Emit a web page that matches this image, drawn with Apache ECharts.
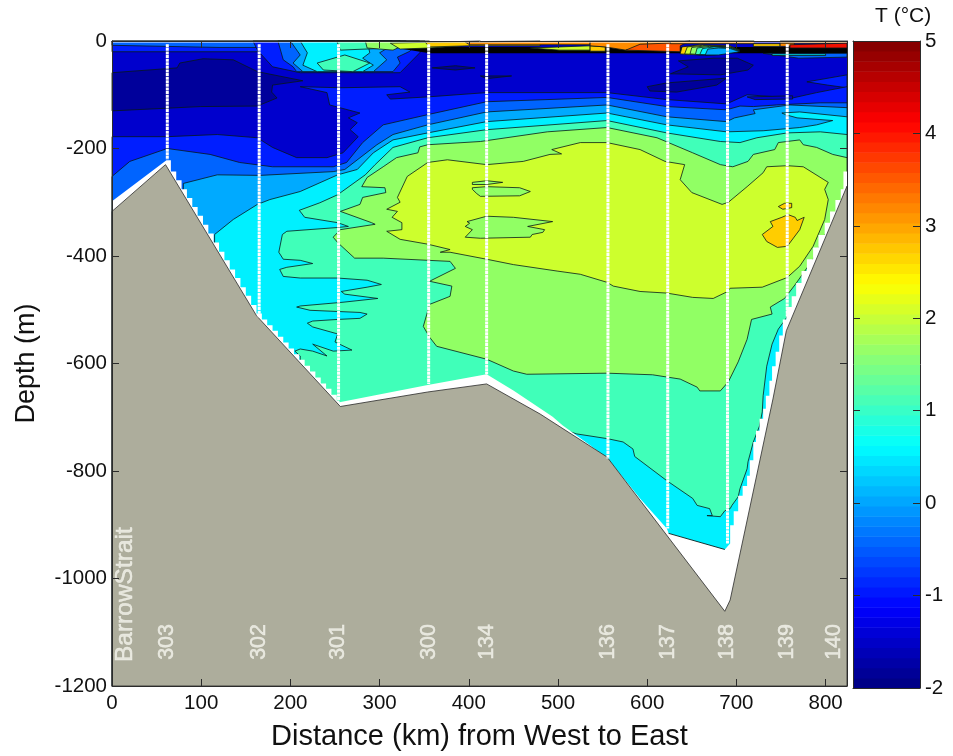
<!DOCTYPE html>
<html><head><meta charset="utf-8">
<style>html,body{margin:0;padding:0;background:#fff}#c{width:953px;height:756px}</style>
<script src="https://cdn.jsdelivr.net/npm/echarts@6/dist/echarts.min.js"></script>
</head><body><div id="c"></div>
<script>
// ---- Data: [distance km, depth m] ----
const xTicks=[0,100,200,300,400,500,600,700,800];
const depthTicks=[0,-200,-400,-600,-800,-1000,-1200];
const tempTicks=[-2,-1,0,1,2,3,4,5];
const stationNames=['303','302','301','300','134','136','137','138','139','140'];
const stationLabelKm=[62,165,254,355,420,556,623,690,757,809];
const stationKm=[62,165,254,355,420,556,623,690,757];
const stationBottom=[-221,-514,-669,-638,-620,-777,-907,-935,-512];
const bathymetry=[[0,-317],[60,-230],[162,-511],[256,-680],[354,-653],[420,-638],[480,-694],[555,-774],[687,-1061],[693,-1040],[741,-666],[756,-539],[824,-270]];
const dataBottom=[[0,-298],[61,-222],[66,-222],[66,-243],[72,-243],[72,-259],[78,-259],[78,-276],[84,-276],[84,-292],[90,-292],[90,-309],[96,-309],[96,-325],[102,-325],[102,-342],[108,-342],[108,-358],[114,-358],[114,-375],[120,-375],[120,-392],[126,-392],[126,-408],[132,-408],[132,-425],[138,-425],[138,-441],[144,-441],[144,-458],[150,-458],[150,-474],[156,-474],[156,-491],[162,-491],[162,-507],[168,-507],[168,-518],[174,-518],[174,-529],[180,-529],[180,-539],[186,-539],[186,-550],[192,-550],[192,-561],[198,-561],[198,-572],[204,-572],[204,-583],[210,-583],[210,-593],[216,-593],[216,-604],[222,-604],[222,-615],[228,-615],[228,-626],[234,-626],[234,-637],[240,-637],[240,-647],[246,-647],[246,-658],[252,-658],[252,-669],[255,-669],[255,-672],[354,-640],[420,-620],[450,-650],[494,-699],[505,-715],[536,-752],[556,-777],[592,-851],[622,-907],[624,-916],[687,-946],[693,-935],[693,-901],[697,-901],[697,-875],[702,-875],[702,-846],[707,-846],[707,-828],[712,-828],[712,-809],[715,-809],[715,-780],[719,-780],[719,-746],[722,-746],[722,-725],[726,-725],[726,-703],[730,-703],[730,-684],[733,-684],[733,-660],[737,-660],[737,-632],[740,-632],[740,-605],[744,-605],[744,-578],[748,-578],[748,-548],[752,-548],[752,-518],[756,-518],[756,-495],[762,-495],[762,-475],[767,-475],[767,-450],[773,-450],[773,-428],[779,-428],[779,-406],[786,-406],[786,-384],[792,-384],[792,-361],[799,-361],[799,-338],[805,-338],[805,-317],[811,-317],[811,-296],[817,-296],[817,-276],[820,-276],[820,-243],[824,-243]];
// Isotherms: everything below / inside is warmer than the level
const isoM1=[[0,-178],[62,-178],[118,-174],[163,-180],[180,-198],[207,-217],[241,-217],[259,-208],[276,-178],[267,-165],[275,-152],[265,-143],[278,-134],[244,-119],[241,-96],[211,-85],[256,-87],[323,-85],[334,-95],[308,-100],[312,-108],[354,-104],[420,-96],[555,-96],[622,-109],[689,-117],[712,-100],[763,-106],[790,-96],[824,-85]];
const isoM05=[[0,-252],[20,-224],[62,-200],[110,-211],[143,-226],[180,-234],[248,-234],[263,-226],[281,-189],[304,-156],[354,-137],[420,-113],[555,-105],[622,-122],[689,-128],[704,-121],[719,-122],[745,-119],[794,-115],[824,-115]];
const iso0=[[80,-265],[118,-249],[166,-250],[248,-243],[261,-239],[297,-193],[315,-174],[354,-156],[420,-132],[555,-119],[622,-141],[689,-150],[698,-143],[721,-135],[719,-128],[760,-119],[824,-124]];
const iso05=[[115,-360],[136,-332],[163,-304],[177,-295],[211,-280],[253,-249],[275,-239],[293,-208],[315,-184],[354,-171],[420,-150],[555,-134],[622,-156],[689,-169],[730,-167],[771,-161],[790,-156],[808,-148],[768,-143],[755,-137],[751,-134],[771,-132],[824,-141]];
const iso1=[[824,-174],[794,-169],[757,-171],[723,-180],[704,-189],[682,-187],[622,-171],[555,-148],[420,-165],[354,-180],[315,-198],[295,-230],[284,-249],[253,-286],[233,-301],[210,-315],[216,-328],[253,-338],[265,-345],[253,-347],[196,-354],[191,-360],[187,-393],[192,-406],[211,-408],[225,-414],[196,-421],[188,-425],[192,-438],[211,-441],[253,-441],[286,-445],[302,-453],[286,-458],[257,-466],[261,-471],[298,-479],[259,-486],[211,-493],[207,-495],[222,-501],[278,-505],[286,-508],[278,-516],[253,-518],[225,-521],[219,-525],[225,-532],[253,-545],[250,-560],[269,-575],[248,-577],[225,-564],[241,-586],[225,-577],[211,-573],[205,-577],[211,-586],[211,-595],[240,-660],[260,-690],[420,-660],[500,-720],[521,-731],[556,-740],[573,-746],[584,-759],[586,-773],[622,-818],[651,-851],[656,-864],[670,-870],[673,-883],[667,-883],[682,-885],[687,-874],[693,-870],[695,-864],[702,-848],[704,-833],[712,-796],[713,-783],[719,-746],[726,-716],[729,-690],[730,-660],[734,-605],[740,-564],[747,-536],[755,-518],[771,-473],[805,-341],[824,-267]];
const iso15=[[824,-217],[808,-211],[790,-198],[775,-193],[771,-184],[747,-189],[743,-202],[719,-211],[713,-224],[696,-234],[682,-230],[651,-208],[611,-180],[555,-161],[488,-169],[413,-187],[354,-193],[345,-197],[343,-208],[319,-217],[304,-234],[286,-254],[280,-271],[306,-273],[307,-282],[281,-291],[278,-304],[256,-317],[291,-338],[295,-341],[256,-351],[248,-365],[253,-375],[272,-404],[304,-404],[379,-410],[385,-423],[356,-447],[381,-456],[379,-475],[356,-490],[353,-508],[349,-531],[356,-551],[364,-568],[420,-592],[450,-614],[465,-620],[555,-618],[606,-621],[637,-629],[656,-644],[659,-651],[682,-651],[691,-634],[702,-597],[712,-555],[717,-518],[740,-508],[738,-495],[754,-479],[766,-453],[786,-406],[824,-276]];
const iso2=[[555,-189],[592,-202],[620,-224],[642,-230],[637,-258],[650,-282],[684,-304],[691,-300],[712,-271],[730,-245],[734,-234],[757,-232],[775,-234],[803,-263],[799,-276],[803,-295],[799,-332],[786,-382],[771,-419],[757,-440],[729,-458],[693,-460],[689,-467],[674,-479],[651,-477],[622,-469],[592,-466],[562,-456],[555,-449],[525,-434],[499,-428],[450,-416],[420,-406],[379,-393],[368,-393],[379,-388],[354,-378],[323,-369],[308,-354],[325,-351],[325,-338],[314,-328],[320,-317],[308,-313],[323,-300],[320,-291],[331,-252],[354,-226],[376,-221],[420,-230],[461,-224],[491,-211],[504,-210],[493,-202],[525,-189]];
const pocket15a=[[404,-263],[420,-260],[438,-263],[420,-267],[404,-267]];
const pocket15b=[[404,-273],[420,-271],[457,-273],[469,-280],[457,-288],[413,-289],[409,-284],[404,-276]];
const pocket15c=[[398,-336],[420,-326],[450,-328],[494,-336],[466,-345],[485,-351],[483,-356],[471,-360],[469,-365],[413,-367],[396,-365],[404,-351],[396,-345],[401,-339]];
const core25a=[[751,-328],[758,-323],[766,-328],[768,-334],[776,-328],[771,-351],[757,-382],[746,-384],[734,-373],[729,-360],[741,-345],[738,-336]];
const core25b=[[747,-308],[754,-302],[762,-302],[762,-310],[752,-313]];
const coldMain=[[0,-59],[73,-50],[76,-41],[102,-33],[136,-35],[163,-57],[214,-74],[180,-82],[179,-95],[185,-106],[163,-121],[99,-122],[0,-130]];
const coldB=[[359,-50],[385,-46],[407,-50],[385,-54]];
const coldC=[[413,-65],[448,-65],[420,-70]];
const coldD=[[635,-37],[674,-32],[701,-32],[719,-45],[713,-54],[682,-63],[626,-61],[646,-48]];
const coldE=[[600,-85],[622,-78],[689,-69],[678,-82],[633,-95],[603,-93]];
const coolF=[[712,-104],[763,-102],[763,-108],[721,-109]];
const blueG=[[779,-76],[824,-63],[824,-87],[802,-82]];
// Near-surface layer
const surfM1=[[0,0],[330,0],[330,-15],[180,-20],[0,-20]];
const surfM05=[[0,0],[250,0],[250,-12],[120,-12],[0,-8]];
const capM1=[[158,0],[163,-17],[180,-48],[211,-59],[323,-59],[345,-22],[351,0]];
const capM05=[[186,0],[192,-35],[203,-48],[207,-57],[315,-57],[323,-41],[320,-30],[334,-19],[345,0]];
const cap0=[[200,0],[211,-26],[203,-41],[214,-57],[293,-57],[308,-35],[300,-22],[315,-7],[323,0]];
const cap05=[[211,0],[219,-22],[214,-45],[230,-57],[281,-57],[293,-45],[281,-32],[289,-22],[286,0]];
const capIsland1=[[230,-41],[261,-26],[289,-41],[270,-57],[237,-54]];
const capTop1=[[252,0],[256,-17],[312,-13],[314,0]];
const capTop15=[[284,0],[286,-13],[315,-17],[323,-11],[356,-9],[356,0]];
const surfBlack=[[326,-15],[356,-11],[469,-11],[824,-11],[824,-23],[356,-23]];
const surf2a=[[312,-4],[323,-15],[356,-13],[413,-7],[413,0]];
const surf25a=[[351,-2],[356,-11],[401,-9],[480,-9],[480,0]];
const surf3a=[[396,-2],[401,-7],[536,-7],[536,0]];
const lens2=[[469,-13],[502,-11],[536,-9],[536,-17],[502,-17]];
const lens25=[[536,-9],[553,-11],[553,-19],[536,-19]];
const surf3b=[[536,0],[626,0],[626,-17],[576,-17],[553,-11],[536,-9]];
const surf35=[[576,-17],[592,-6],[622,-4],[648,0],[637,-9],[637,-20]];
const ring25=[[637,-24],[639,-11],[659,-7],[693,-9],[704,-17],[659,-26]];
const ring2=[[642,-24],[645,-11],[662,-8],[693,-11],[704,-17],[662,-26]];
const ring15=[[648,-24],[650,-12],[666,-9],[693,-11],[704,-18],[666,-26]];
const ring1=[[654,-25],[656,-13],[670,-10],[693,-12],[704,-18],[670,-26]];
const ring05=[[659,-25],[662,-14],[675,-11],[693,-13],[704,-19],[675,-26]];
const ring0=[[665,-26],[668,-15],[680,-13],[693,-14],[704,-20],[680,-26]];
const surf3c=[[626,0],[720,0],[720,-5],[626,-5]];
const surf25b=[[719,-5],[749,-5],[749,-10],[719,-10]];
const surf3d=[[749,0],[824,0],[824,-4],[749,-4]];
const surf3e=[[749,-4],[765,-4],[765,-10],[749,-10]];
const surf4=[[760,-7],[824,-4],[824,-13],[760,-13]];
const subM05=[[730,-23],[824,-23],[824,-30],[770,-32]];
const sub05=[[740,-24],[800,-24],[800,-27],[740,-27]];
const bottomEdge=[[624,-916],[687,-946]];
const topStrip=[[0,0],[824,0],[824,-3],[0,-3]];

// ---- Styling ----
const FONT='"Liberation Sans",Arial,sans-serif';
const C={'-2':'#00009b','-1.5':'#0000cd','-1':'#001eff','-0.5':'#0064ff','0':'#00aaff','0.5':'#00f0ff','1':'#40ffb9','1.5':'#91ff64','2':'#cdff2d','2.5':'#ffcd00','3':'#ff8c00','3.5':'#ff5500','4':'#f01000'};
const LINE='rgba(8,24,24,0.88)';
const XMAX=824,YMIN=-1200;
const under=p=>p.concat([[XMAX,YMIN],[p[0][0],YMIN]]);
const band=(lvl,p)=>({fill:C[lvl],stroke:LINE,lw:0.9,path:p});
const plain=(fill,p)=>({fill:fill,path:p});
const regions=[
 plain(C['-1.5'],[[0,0],[XMAX,0],[XMAX,YMIN],[0,YMIN]]),
 band('-2',coldMain),band('-2',coldB),band('-2',coldC),band('-2',coldD),band('-2',coldE),
 band('-1',blueG),
 band('-1',under(isoM1)),band('-1.5',coolF),
 band('-0.5',under(isoM05)),band('0',under(iso0)),band('0.5',under(iso05)),
 band('1',iso1),band('1.5',iso15),band('2',iso2),
 band('1.5',pocket15a),band('1.5',pocket15b),band('1.5',pocket15c),
 band('2.5',core25a),band('2.5',core25b),
 band('-1',surfM1),band('-0.5',surfM05),
 band('-1',capM1),band('-0.5',capM05),band('0',cap0),band('0.5',cap05),band('1',capIsland1),band('1',capTop1),band('1.5',capTop15),
 plain('#000',surfBlack),
 band('2',surf2a),band('2.5',surf25a),band('3',surf3a),band('2',lens2),band('2.5',lens25),band('3',surf3b),band('3.5',surf35),
 band('-0.5',subM05),band('0.5',sub05),
 band('3',surf3c),band('2.5',surf25b),band('3',surf3d),band('3',surf3e),band('4',surf4),
 band('2.5',ring25),band('2',ring2),band('1.5',ring15),band('1',ring1),band('0.5',ring05),band('0',ring0),
 plain('#fff',under(dataBottom)),
 plain('#fff',topStrip),
 {fill:'#adad9c',stroke:'#2a2a2a',lw:0.8,path:under(bathymetry)},
 {polyline:true,stroke:LINE,lw:1,path:bottomEdge}
];
function jet(t){
 const c=v=>Math.round(255*Math.max(0,Math.min(1,v)));
 return 'rgb('+c(Math.min(4*t-1.5,-4*t+4.5))+','+c(Math.min(4*t-0.5,-4*t+3.5))+','+c(Math.min(4*t+0.5,-4*t+2.5))+')';
}
const cells=[];for(let i=0;i<64;i++)cells.push([i]);

const frame={onZero:false,lineStyle:{color:'#2b2b2b',width:1}};
const tick=v=>({show:true,inside:true,length:7,lineStyle:{color:'#2b2b2b',width:1},customValues:v});
const lbl={color:'#111',fontFamily:FONT,fontSize:20.5,formatter:v=>String(v)};
const xBase={type:'value',gridIndex:0,min:0,max:XMAX,z:10,splitLine:{show:false},axisLine:frame};
const yBase={type:'value',gridIndex:0,min:YMIN,max:0,z:10,splitLine:{show:false},axisLine:frame};
const cx={type:'value',gridIndex:1,min:0,max:1,z:10,splitLine:{show:false},axisLine:frame,axisTick:{show:false},axisLabel:{show:false}};
const cy={type:'value',gridIndex:1,min:-2,max:5,interval:1,z:10,splitLine:{show:false},axisLine:frame};
const stationText={show:true,position:'inside',rotate:90,formatter:'{b}',color:'#f4f4ec',fontFamily:FONT,textBorderColor:'#f4f4ec',textBorderWidth:0.5};

const series=[
 {type:'custom',xAxisIndex:0,yAxisIndex:0,z:2,silent:true,data:regions.map((r,i)=>[i]),
  renderItem:(p,api)=>{const r=regions[p.dataIndex];const pts=r.path.map(q=>api.coord(q));
   return {type:r.polyline?'polyline':'polygon',shape:{points:pts},style:{fill:r.polyline?null:r.fill,stroke:r.stroke||null,lineWidth:r.lw||0}};}},
 {type:'custom',xAxisIndex:2,yAxisIndex:2,z:2,silent:true,data:cells,
  renderItem:(p,api)=>{const i=p.dataIndex;const a=api.coord([0,-2+7*i/64]),b=api.coord([1,-2+7*(i+1)/64]);
   return {type:'rect',shape:{x:a[0],y:b[1],width:b[0]-a[0],height:a[1]-b[1]+0.5},style:{fill:jet((i+0.5)/64)}};}},
 {type:'scatter',xAxisIndex:0,yAxisIndex:0,z:5,silent:true,symbolSize:0,
  data:stationNames.map((n,i)=>({value:[stationLabelKm[i],-1118],name:n})),
  label:Object.assign({},stationText,{fontSize:21.5})},
 {type:'scatter',xAxisIndex:0,yAxisIndex:0,z:5,silent:true,symbolSize:0,
  data:[{value:[15,-1030],name:'BarrowStrait'}],
  label:Object.assign({},stationText,{fontSize:24.5})}
];
stationKm.forEach((k,i)=>series.push({type:'line',xAxisIndex:0,yAxisIndex:0,z:4,silent:true,showSymbol:false,
  lineStyle:{color:'#fff',width:3,type:[3,0.6]},data:[[k,-6],[k,stationBottom[i]]]}));

echarts.init(document.getElementById('c'),null,{renderer:'canvas'}).setOption({
 animation:false,backgroundColor:'#fff',
 title:{text:'T (°C)',left:870,top:1,textStyle:{fontFamily:FONT,fontSize:21,fontWeight:'normal',color:'#111'}},
 grid:[{left:112,top:41,width:735,height:647},{left:853,top:41,width:67,height:647}],
 xAxis:[
  Object.assign({},xBase,{position:'bottom',axisTick:tick(xTicks),axisLabel:Object.assign({},lbl,{customValues:xTicks,margin:7}),
    name:'Distance (km) from West to East',nameLocation:'middle',nameGap:36,nameTextStyle:{fontFamily:FONT,fontSize:29,color:'#111'}}),
  Object.assign({},xBase,{position:'top',axisTick:tick(xTicks),axisLabel:{show:false}}),
  Object.assign({},cx,{position:'bottom'}),
  Object.assign({},cx,{position:'top'})
 ],
 yAxis:[
  Object.assign({},yBase,{position:'left',axisTick:tick(depthTicks),axisLabel:Object.assign({},lbl,{customValues:depthTicks,margin:5}),
    name:'Depth (m)',nameLocation:'middle',nameGap:72,nameTextStyle:{fontFamily:FONT,fontSize:27,color:'#111'}}),
  Object.assign({},yBase,{position:'right',axisTick:tick(depthTicks),axisLabel:{show:false}}),
  Object.assign({},cy,{position:'right',axisTick:tick(tempTicks),axisLabel:Object.assign({},lbl,{customValues:tempTicks,margin:5})}),
  Object.assign({},cy,{position:'left',axisTick:tick(tempTicks),axisLabel:{show:false}})
 ],
 series:series
});
</script></body></html>
